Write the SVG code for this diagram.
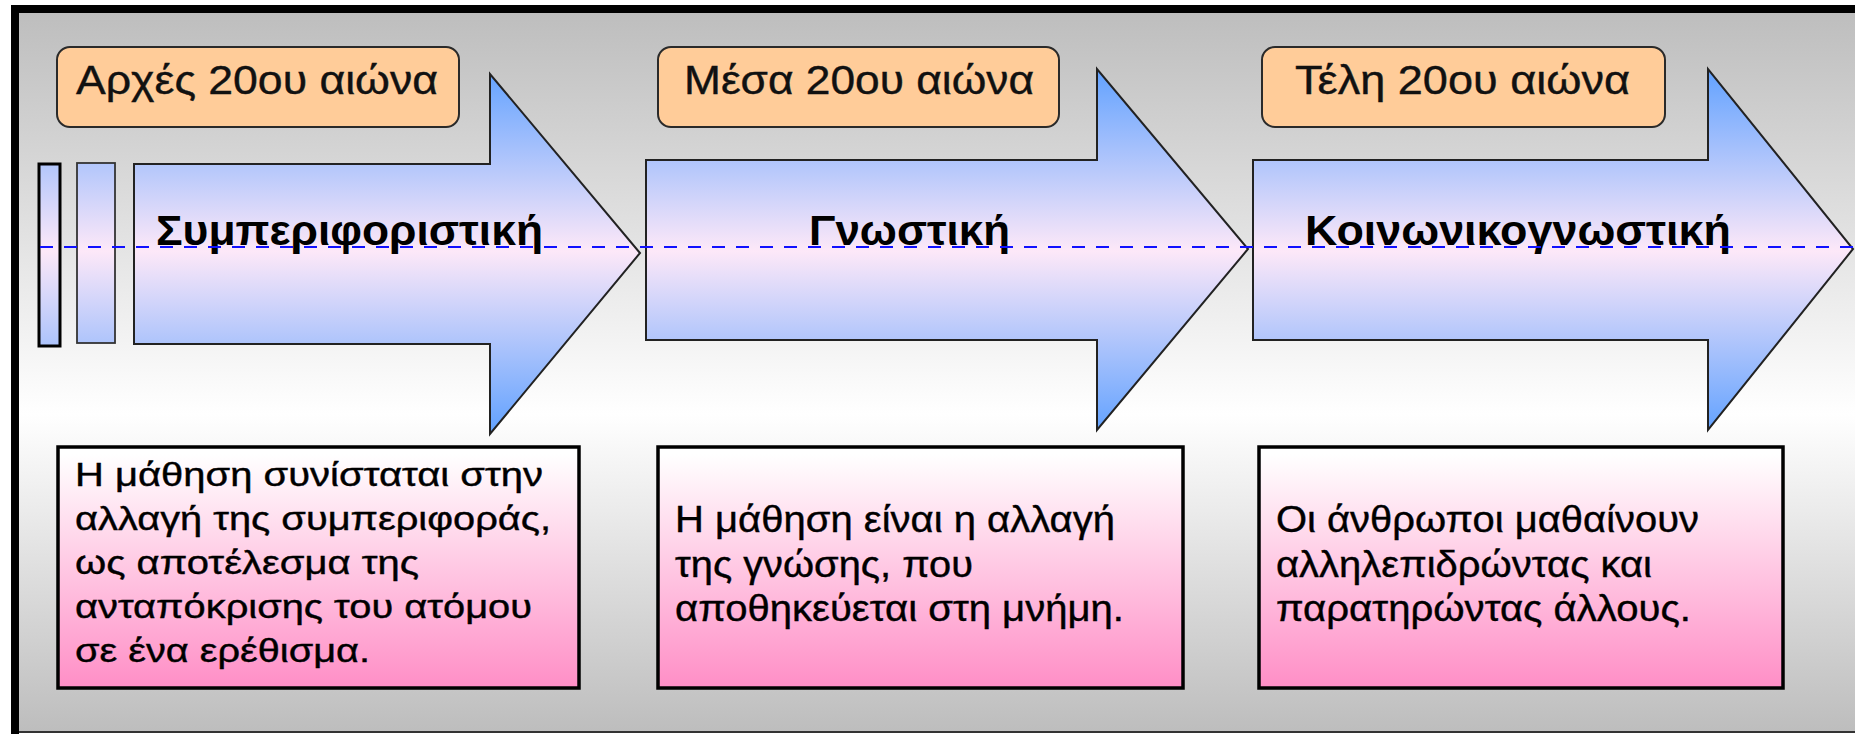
<svg xmlns="http://www.w3.org/2000/svg" width="1855" height="734" viewBox="0 0 1855 734">
<defs>
<linearGradient id="bg" x1="0" y1="9" x2="0" y2="732" gradientUnits="userSpaceOnUse">
<stop offset="0" stop-color="#bdbdbd"/>
<stop offset="0.56" stop-color="#ffffff"/>
<stop offset="1" stop-color="#bdbdbd"/>
</linearGradient>
<linearGradient id="ag" x1="0" y1="70" x2="0" y2="432" gradientUnits="userSpaceOnUse">
<stop offset="0" stop-color="#62a2ff"/>
<stop offset="0.5" stop-color="#fde8f8"/>
<stop offset="1" stop-color="#62a2ff"/>
</linearGradient>
<linearGradient id="pg" x1="0" y1="0" x2="0" y2="1">
<stop offset="0.03" stop-color="#ffffff"/>
<stop offset="1" stop-color="#ff8ec6"/>
</linearGradient>
</defs>
<style>
.arrow{fill:url(#ag);stroke:#222;stroke-width:2;stroke-linejoin:miter}
.badge{fill:#ffcc99;stroke:#2a2a2a;stroke-width:2}
.box{fill:url(#pg);stroke:#000;stroke-width:3.5}
.bt{font-family:"Liberation Sans",Arial,sans-serif;font-size:41px;fill:#111;stroke:#111;stroke-width:0.4}
.at{font-family:"Liberation Sans",Arial,sans-serif;font-size:42px;font-weight:bold;fill:#000}
.tt{font-family:"Liberation Sans",Arial,sans-serif;font-size:37px;fill:#000;stroke:#000;stroke-width:0.4}
.ts{font-size:33px}
.dash{stroke:#1010ff;stroke-width:2.2;stroke-dasharray:13 11;fill:none}
</style>
<rect x="0" y="0" width="1855" height="734" fill="#ffffff"/>
<g id="frame">
<rect x="15" y="9" width="1845" height="723" fill="url(#bg)"/>
<line x1="15" y1="5" x2="15" y2="734" stroke="#000" stroke-width="8"/>
<line x1="11" y1="9" x2="1855" y2="9" stroke="#000" stroke-width="8"/>
<line x1="19" y1="732" x2="1855" y2="732" stroke="#333" stroke-width="2"/>
</g>
<g id="bar1"><rect class="arrow" x="39" y="164" width="21" height="182" style="stroke:#000;stroke-width:3"/></g>
<g id="bar2"><rect class="arrow" x="77" y="163" width="38" height="180" style="stroke:#333;stroke-width:1.8"/></g>
<g id="arrow1">
<polygon class="arrow" points="134,164 490,164 490,74 640,253 490,434 490,344 134,344"/>
</g>
<g id="arrow2">
<polygon class="arrow" points="646,160 1097,160 1097,69 1248,249 1097,430 1097,340 646,340"/>
</g>
<g id="arrow3">
<polygon class="arrow" points="1253,160 1708,160 1708,69 1853,249 1708,430 1708,340 1253,340"/>
</g>
<g id="badge1">
<rect class="badge" x="57" y="47" width="402" height="80" rx="13"/>
<text class="bt" x="76" y="94" textLength="362" lengthAdjust="spacingAndGlyphs">Αρχές 20ου αιώνα</text>
</g>
<g id="badge2">
<rect class="badge" x="658" y="47" width="401" height="80" rx="13"/>
<text class="bt" x="684" y="94" textLength="350" lengthAdjust="spacingAndGlyphs">Μέσα 20ου αιώνα</text>
</g>
<g id="badge3">
<rect class="badge" x="1262" y="47" width="403" height="80" rx="13"/>
<text class="bt" x="1295" y="94" textLength="335" lengthAdjust="spacingAndGlyphs">Τέλη 20ου αιώνα</text>
</g>
<g id="box1">
<rect class="box" x="58" y="447" width="521" height="241"/>
<text class="tt ts" x="75" y="486" textLength="468" lengthAdjust="spacingAndGlyphs">Η μάθηση συνίσταται στην</text>
<text class="tt ts" x="75" y="530" textLength="476" lengthAdjust="spacingAndGlyphs">αλλαγή της συμπεριφοράς,</text>
<text class="tt ts" x="75" y="574" textLength="344" lengthAdjust="spacingAndGlyphs">ως αποτέλεσμα της</text>
<text class="tt ts" x="75" y="618" textLength="457" lengthAdjust="spacingAndGlyphs">ανταπόκρισης του ατόμου</text>
<text class="tt ts" x="75" y="662" textLength="295" lengthAdjust="spacingAndGlyphs">σε ένα ερέθισμα.</text>
</g>
<g id="box2">
<rect class="box" x="658" y="447" width="525" height="241"/>
<text class="tt" x="675" y="532" textLength="440" lengthAdjust="spacingAndGlyphs">Η μάθηση είναι η αλλαγή</text>
<text class="tt" x="675" y="577" textLength="298" lengthAdjust="spacingAndGlyphs">της γνώσης, που</text>
<text class="tt" x="675" y="621" textLength="449" lengthAdjust="spacingAndGlyphs">αποθηκεύεται στη μνήμη.</text>
</g>
<g id="box3">
<rect class="box" x="1259" y="447" width="524" height="241"/>
<text class="tt" x="1276" y="532" textLength="423" lengthAdjust="spacingAndGlyphs">Οι άνθρωποι μαθαίνουν</text>
<text class="tt" x="1276" y="577" textLength="376" lengthAdjust="spacingAndGlyphs">αλληλεπιδρώντας και</text>
<text class="tt" x="1276" y="621" textLength="415" lengthAdjust="spacingAndGlyphs">παρατηρώντας άλλους.</text>
</g>
<g id="labels">
<text class="at" x="156" y="245" textLength="387" lengthAdjust="spacingAndGlyphs">Συμπεριφοριστική</text>
<text class="at" x="809" y="245" textLength="201" lengthAdjust="spacingAndGlyphs">Γνωστική</text>
<text class="at" x="1305" y="245" textLength="426" lengthAdjust="spacingAndGlyphs">Κοινωνικογνωστική</text>
</g>
<g id="connectors">
<line class="dash" x1="40" y1="247" x2="1853" y2="247"/>
</g>
</svg>
